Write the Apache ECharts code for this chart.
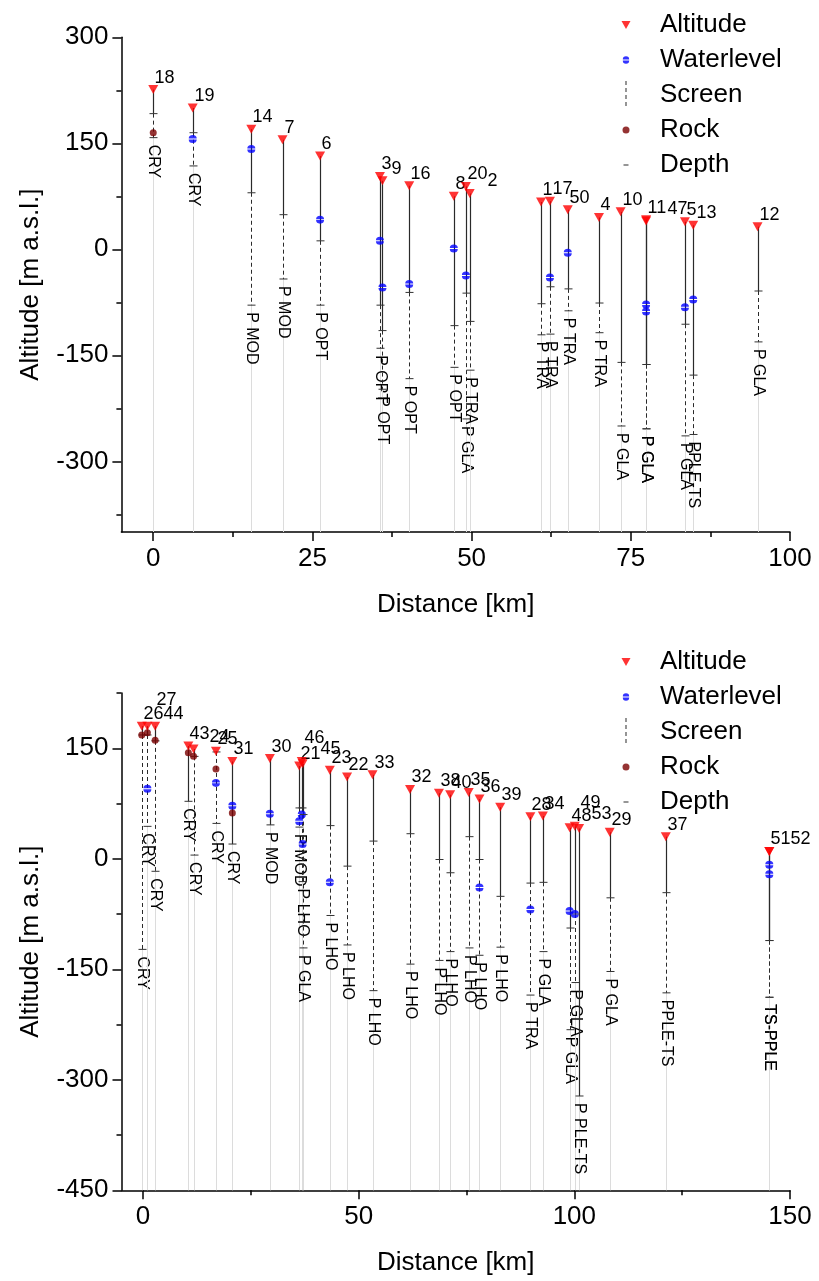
<!DOCTYPE html>
<html>
<head>
<meta charset="utf-8">
<title>Well profiles</title>
<script src="https://cdn.jsdelivr.net/npm/echarts@6/dist/echarts.min.js"></script>
<style>
  html, body { margin: 0; padding: 0; background: #fff; }
  #chart { width: 819px; height: 1281px; }
</style>
</head>
<body>
<div id="chart"></div>
<script>
// upper profile
const topId     = ['18', '19', '14', '7', '6', '3', '9', '16', '8', '20', '2', '1', '17', '50', '4', '10', '11', '47', '5', '13', '12'];
const topDist   = [0, 6.2, 15.4, 20.3, 26.2, 35.6, 36.0, 40.2, 47.2, 49.1, 49.7, 60.9, 62.3, 65.1, 70.0, 73.4, 77.4, 77.4, 83.5, 84.8, 94.9];
const topAlt    = [226, 200, 170, 155, 132, 103, 97, 90, 75, 89, 79, 67, 68, 56, 45, 53, 42, 40, 39, 34, 32];
const topWater  = [null, 156, 142, null, 42, 12, -54, -49, 1, -37, null, null, -40, -5, null, null, -78, -88, -82, -71, null];
const topRock   = [165, null, null, null, null, null, null, null, null, null, null, null, null, null, null, null, null, null, null, null, null];
const topScreen = [192, 165, 80, 49, 12, -79, -115, -61, -108, -62, -102, -77, -53, -56, -76, -160, -163, -163, -106, -178, -59];
const topBottom = [158, 118, -79, -42, -79, -140, -198, -183, -167, -240, -171, -121, -120, -87, -118, -250, -254, -254, -264, -262, -131];
const topUnit   = ['CRY', 'CRY', 'P MOD', 'P MOD', 'P OPT', 'P OPT', 'P OPT', 'P OPT', 'P OPT', 'P GLA', 'P TRA', 'P TRA', 'P TRA', 'P TRA', 'P TRA', 'P GLA', 'P GLA', 'P GLA', 'P GLA', 'PPLE-TS', 'P GLA'];

// lower profile
const botId     = ['26', '44', '27', '43', '24', '25', '31', '30', '21', '45', '46', '23', '22', '33', '32', '38', '40', '35', '36', '39', '28', '34', '48', '53', '49', '29', '37', '51', '52'];
const botDist   = [-0.3, 1.0, 2.8, 10.5, 11.7, 16.9, 20.7, 29.4, 36.2, 36.8, 37.0, 43.3, 47.3, 53.2, 61.9, 68.6, 71.2, 75.5, 78.0, 82.8, 89.8, 92.7, 98.9, 100.1, 101.1, 108.2, 121.2, 145.2, 145.2];
const botAlt    = [180, 180, 180, 153, 149, 146, 132, 136, 126, 132, 129, 120, 111, 114, 94, 89, 87, 90, 81, 70, 57, 58, 42, 44, 41, 36, 30, 10, 10];
const botWater  = [null, 95, null, null, null, 103, 72, 61, 51, 60, 20, -32, null, null, null, null, null, null, -39, null, -69, null, -71, -75, null, null, null, -8, -21];
const botRock   = [168, 171, 161, 144, 139, 122, 62, null, null, null, null, null, null, null, null, null, null, null, null, null, null, null, null, null, null, null, null, null, null];
const botScreen = [168, 168, 160, 78, 139, 145, 20, 46, 69, 69, 60, 45, -10, 24, 34, -1, -19, 30, -1, -51, -33, -32, -94, -75, -322, -53, -46, -111, -111];
const botBottom = [-123, 44, -17, 78, 5, 48, 20, 46, 43, -31, -121, -77, -117, -179, -143, -138, -126, -121, -131, -120, -185, -126, -232, -168, -322, -153, -182, -188, -188];
const botUnit   = ['CRY', 'CRY', 'CRY', 'CRY', 'CRY', 'CRY', 'CRY', 'P MOD', 'P MOD', 'P LHO', 'P GLA', 'P LHO', 'P LHO', 'P LHO', 'P LHO', 'P LHO', 'P LHO', 'P LHO', 'P LHO', 'P LHO', 'P TRA', 'P GLA', 'P GLA', 'P GLA', 'P PLE-TS', 'P GLA', 'PPLE-TS', 'TS-PPLE', 'TS-PPLE'];

const topXTicks = [0, 25, 50, 75, 100];
const topXMinor = [12.5, 37.5, 62.5, 87.5];
const topYTicks = [-300, -150, 0, 150, 300];
const topYMinor = [-375, -225, -75, 75, 225];
const botXTicks = [0, 50, 100, 150];
const botXMinor = [25, 75, 125];
const botYTicks = [-450, -300, -150, 0, 150];
const botYMinor = [-375, -225, -75, 75, 225];

const FONT = 'Liberation Sans';
const TRI = 'path://M0,0L10,0L5,9Z';
const WATER = 'path://M-5,-0.7A5,5,0,0,1,5,-0.7ZM-5,0.7A5,5,0,0,0,5,0.7Z';

const chart = echarts.init(document.getElementById('chart'));

function pairs(xs, ys) {
  const out = [];
  xs.forEach((x, i) => { if (ys[i] !== null) out.push([x, ys[i]]); });
  return out;
}

function tick(px, py) {
  return { type: 'line', shape: { x1: px - 4, y1: py, x2: px + 4, y2: py },
    style: { stroke: '#333', lineWidth: 1 } };
}

function wellRenderer(ids, units, yMin) {
  // number labels of wells standing almost on top of each other get nudged
  // (second one to the right, third one up) so they stay readable
  let prev = null;
  return function (params, api) {
    const i = params.dataIndex;
    if (i === 0) prev = null;
    const x = api.value(0);
    const pAlt = api.coord([x, api.value(1)]);
    const pScr = api.coord([x, api.value(2)]);
    const pBot = api.coord([x, api.value(3)]);
    const pMin = api.coord([x, yMin]);
    const px = Math.round(pAlt[0]) + 0.5;
    const kids = [
      { type: 'line', shape: { x1: px, y1: pBot[1], x2: px, y2: pMin[1] },
        style: { stroke: '#dcdcdc', lineWidth: 1 } },
      { type: 'line', shape: { x1: px, y1: pAlt[1], x2: px, y2: pScr[1] },
        style: { stroke: '#2a2a2a', lineWidth: 1.2 } }
    ];
    if (pBot[1] - pScr[1] > 1) {
      kids.push({ type: 'line', shape: { x1: px, y1: pScr[1], x2: px, y2: pBot[1] },
        style: { stroke: '#2a2a2a', lineWidth: 1, lineDash: [4, 3] } });
      kids.push(tick(px, pScr[1]));
    }
    kids.push(tick(px, pBot[1]));
    kids.push({ type: 'text', x: px, y: pBot[1] + 7, rotation: -Math.PI / 2,
      style: { text: units[i], font: '16px "' + FONT + '"', fill: '#000', align: 'left', verticalAlign: 'middle' } });

    let lx = px + 1;
    let ly = pAlt[1] - 3;
    let moved = 0;
    if (prev && px - prev.px < 10 && Math.abs(prev.y - ly) < 16) {
      if (prev.moved === 0) { lx = prev.right; moved = 1; }
      else { ly = ly - 14; moved = 2; }
    }
    prev = { px: px, right: lx + ids[i].length * 10, y: pAlt[1] - 3, moved: moved };
    kids.push({ type: 'text',
      style: { text: ids[i], x: lx, y: ly, font: '18px "' + FONT + '"', fill: '#000', align: 'left', verticalAlign: 'bottom' } });
    return { type: 'group', children: kids };
  };
}

function mainAxis(grid, min, max, ticks, name, gap, isY) {
  return {
    type: 'value', gridIndex: grid, min: min, max: max,
    position: isY ? 'left' : 'bottom',
    name: name, nameLocation: 'middle', nameGap: gap,
    nameTextStyle: { fontFamily: FONT, fontSize: 26, color: '#000' },
    axisLine: { onZero: false, lineStyle: { color: '#000', width: 1.5 } },
    axisTick: { length: 9, customValues: ticks, lineStyle: { color: '#000', width: 1.5 } },
    axisLabel: { customValues: ticks, margin: isY ? 13 : 14, fontFamily: FONT, fontSize: 26, color: '#000' },
    splitLine: { show: false }
  };
}

function minorAxis(grid, min, max, ticks, isY) {
  return {
    type: 'value', gridIndex: grid, min: min, max: max,
    position: isY ? 'left' : 'bottom', offset: 0,
    axisLine: { show: false, onZero: false },
    axisTick: { length: 5, customValues: ticks, lineStyle: { color: '#000', width: 1.5 } },
    axisLabel: { show: false },
    splitLine: { show: false }
  };
}

function legendAt(top) {
  return {
    orient: 'vertical', left: 611, top: top, itemWidth: 20, itemHeight: 28, itemGap: 7,
    selectedMode: false,
    textStyle: { fontFamily: FONT, fontSize: 26, color: '#000', padding: [0, 0, 0, 19] },
    data: [
      { name: 'Altitude', icon: 'path://M0,0M20,28M5.5,10L14.5,10L10,18Z' },
      { name: 'Waterlevel', icon: 'path://M0,0M20,28M6.8,13.4A3.2,3.2,0,0,1,13.2,13.4ZM6.8,14.6A3.2,3.2,0,0,0,13.2,14.6Z' },
      { name: 'Screen', icon: 'path://M0,0M20,28M9.4,0h1.2v4h-1.2zM9.4,7h1.2v4h-1.2zM9.4,14h1.2v4h-1.2zM9.4,21h1.2v4h-1.2z' },
      { name: 'Rock', icon: 'path://M0,0M20,28M6.5,14A3.5,3.5,0,1,1,13.5,14A3.5,3.5,0,1,1,6.5,14Z' },
      { name: 'Depth', icon: 'path://M0,0M20,28M7.5,13.4h5v1.2h-5z' }
    ]
  };
}

function profileSeries(ax, dist, alt, water, rock, screen, bottom, ids, units, yMin) {
  return [
    {
      type: 'custom', name: 'wells' + ax, xAxisIndex: ax, yAxisIndex: ax, clip: false, z: 2,
      renderItem: wellRenderer(ids, units, yMin),
      encode: { x: 0, y: [1, 2, 3] },
      data: dist.map((d, i) => [d, alt[i], screen[i], bottom[i]])
    },
    { type: 'scatter', name: 'Waterlevel', xAxisIndex: ax, yAxisIndex: ax, z: 4,
      symbol: WATER, symbolSize: 8, itemStyle: { color: '#0000ff' }, data: pairs(dist, water) },
    { type: 'scatter', name: 'Rock', xAxisIndex: ax, yAxisIndex: ax, z: 4,
      symbol: 'circle', symbolSize: 7, itemStyle: { color: '#7a0000' }, data: pairs(dist, rock) },
    { type: 'scatter', name: 'Altitude', xAxisIndex: ax, yAxisIndex: ax, z: 5,
      symbol: TRI, symbolSize: [10, 9], itemStyle: { color: '#ff0000' }, data: pairs(dist, alt) },
    { type: 'scatter', name: 'Screen', xAxisIndex: ax, yAxisIndex: ax, itemStyle: { color: '#222' }, data: [] },
    { type: 'scatter', name: 'Depth', xAxisIndex: ax, yAxisIndex: ax, itemStyle: { color: '#222' }, data: [] }
  ];
}

chart.setOption({
  animation: false,
  backgroundColor: '#fff',
  grid: [
    { left: 121.4, right: 29, top: 37.3, height: 494.7 },
    { left: 121.5, right: 29, top: 693, height: 497.3 }
  ],
  legend: [legendAt(6), legendAt(643)],
  xAxis: [
    mainAxis(0, -5, 100, topXTicks, 'Distance [km]', 60, false),
    minorAxis(0, -5, 100, topXMinor, false),
    mainAxis(1, -5, 150, botXTicks, 'Distance [km]', 60, false),
    minorAxis(1, -5, 150, botXMinor, false)
  ],
  yAxis: [
    mainAxis(0, -400, 300, topYTicks, 'Altitude [m a.s.l.]', 78, true),
    minorAxis(0, -400, 300, topYMinor, true),
    mainAxis(1, -450, 225, botYTicks, 'Altitude [m a.s.l.]', 78, true),
    minorAxis(1, -450, 225, botYMinor, true)
  ],
  series: [].concat(
    profileSeries(0, topDist, topAlt, topWater, topRock, topScreen, topBottom, topId, topUnit, -400),
    profileSeries(2, botDist, botAlt, botWater, botRock, botScreen, botBottom, botId, botUnit, -450)
  )
});
</script>
</body>
</html>
